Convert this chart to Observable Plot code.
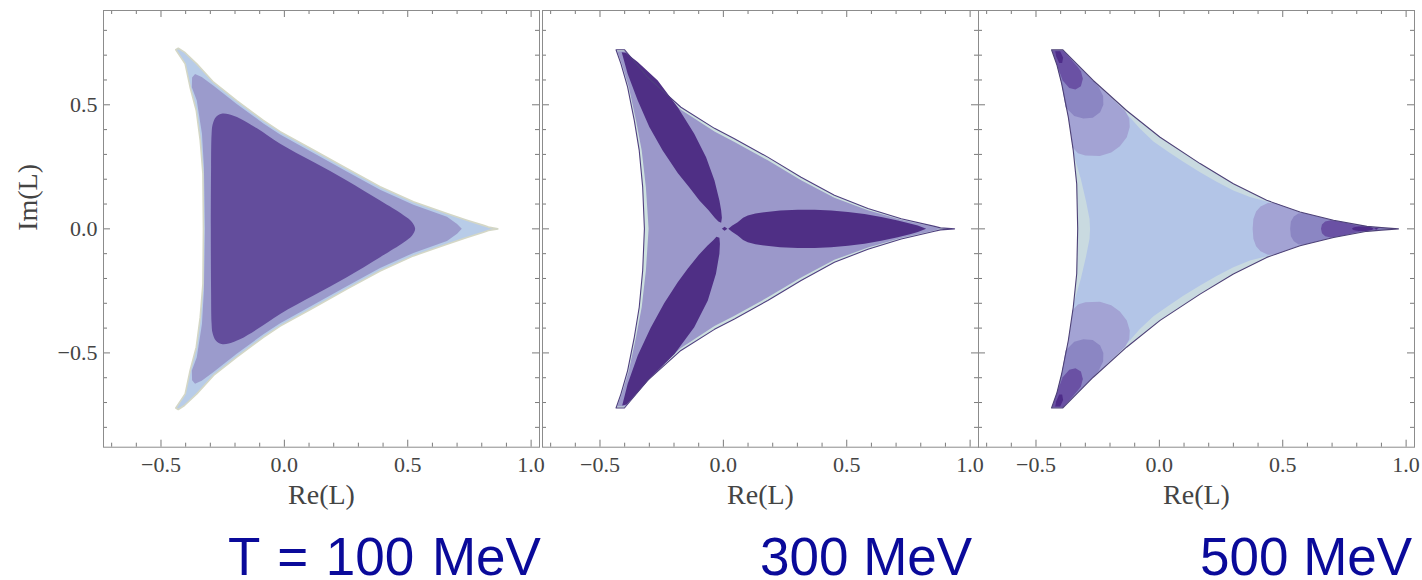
<!DOCTYPE html>
<html><head><meta charset="utf-8">
<script src="https://cdn.jsdelivr.net/npm/d3@7"></script>
<script src="https://cdn.jsdelivr.net/npm/@observablehq/plot@0.6"></script>
<style>
html,body{margin:0;padding:0;background:#fff;}
#wrap{position:relative;width:1422px;height:580px;overflow:hidden;background:#fff;}
.panel{position:absolute;top:0;}
.panel svg{max-width:none !important;}
.cap{position:absolute;font-family:"Liberation Sans",Arial,sans-serif;font-size:53px;color:#0a0a9a;line-height:53px;white-space:nowrap;}
</style></head><body><div id="wrap"></div>
<script>
// ---------- tick values / labels ----------
const xMajor = [-0.5, 0, 0.5, 1.0];
const xTickLabels = ["\u22120.5", "0.0", "0.5", "1.0"];
const xMinor = [-0.7,-0.6,-0.4,-0.3,-0.2,-0.1,0.1,0.2,0.3,0.4,0.6,0.7,0.8,0.9];
const yMajor = [-0.5, 0, 0.5];
const yTickLabels = ["\u22120.5", "0.0", "0.5"];
const yMinor = [-0.8,-0.7,-0.6,-0.4,-0.3,-0.2,-0.1,0.1,0.2,0.3,0.4,0.6,0.7,0.8];
const panelTitles = ["T = 100 MeV", "300 MeV", "500 MeV"];

// ---------- T = 100 MeV contour regions (Re L, Im L) ----------
const p1Outer = [[0.865,0],[0.827,0.007],[0.807,0.014],[0.740,0.035],[0.659,0.062],[0.523,0.109],[0.388,0.170],[0.253,0.243],[0.118,0.318],[-0.017,0.392],[-0.085,0.437],[-0.193,0.517],[-0.287,0.591],[-0.355,0.665],[-0.405,0.712],[-0.430,0.728],[-0.440,0.722],[-0.402,0.665],[-0.382,0.571],[-0.357,0.477],[-0.341,0.356],[-0.330,0.222],[-0.328,0],[-0.330,-0.222],[-0.341,-0.356],[-0.357,-0.477],[-0.382,-0.571],[-0.402,-0.665],[-0.440,-0.722],[-0.430,-0.728],[-0.405,-0.712],[-0.355,-0.665],[-0.287,-0.591],[-0.193,-0.517],[-0.085,-0.437],[-0.017,-0.392],[0.118,-0.318],[0.253,-0.243],[0.388,-0.170],[0.523,-0.109],[0.659,-0.062],[0.740,-0.035],[0.807,-0.014],[0.827,-0.007]];
const p1Middle = [[0.719,0],[0.700,0.020],[0.659,0.049],[0.523,0.097],[0.388,0.158],[0.253,0.231],[0.118,0.306],[-0.017,0.380],[-0.085,0.425],[-0.193,0.503],[-0.287,0.577],[-0.335,0.612],[-0.362,0.624],[-0.374,0.610],[-0.375,0.571],[-0.355,0.517],[-0.334,0.383],[-0.326,0.248],[-0.322,0],[-0.326,-0.248],[-0.334,-0.383],[-0.355,-0.517],[-0.375,-0.571],[-0.374,-0.610],[-0.362,-0.624],[-0.335,-0.612],[-0.287,-0.577],[-0.193,-0.503],[-0.085,-0.425],[-0.017,-0.380],[0.118,-0.306],[0.253,-0.231],[0.388,-0.158],[0.523,-0.097],[0.659,-0.049],[0.700,-0.020]];
const p1Inner = [[0.530,0],[0.517,0.028],[0.483,0.055],[0.388,0.114],[0.253,0.195],[0.118,0.269],[-0.017,0.343],[-0.111,0.405],[-0.180,0.445],[-0.225,0.462],[-0.255,0.464],[-0.278,0.450],[-0.291,0.420],[-0.295,0.380],[-0.297,0.250],[-0.298,0],[-0.297,-0.250],[-0.295,-0.380],[-0.291,-0.420],[-0.278,-0.450],[-0.255,-0.464],[-0.225,-0.462],[-0.180,-0.445],[-0.111,-0.405],[-0.017,-0.343],[0.118,-0.269],[0.253,-0.195],[0.388,-0.114],[0.483,-0.055],[0.517,-0.028]];

// ---------- T = 300 MeV ----------
const p2Outer = [[0.937,0],[0.880,0.004],[0.856,0.010],[0.721,0.041],[0.586,0.082],[0.450,0.135],[0.315,0.208],[0.180,0.289],[0.045,0.363],[-0.036,0.405],[-0.172,0.490],[-0.307,0.611],[-0.401,0.722],[-0.435,0.722],[-0.415,0.665],[-0.388,0.571],[-0.361,0.437],[-0.341,0.316],[-0.327,0.168],[-0.320,0],[-0.327,-0.168],[-0.341,-0.316],[-0.361,-0.437],[-0.388,-0.571],[-0.415,-0.665],[-0.435,-0.722],[-0.401,-0.722],[-0.307,-0.611],[-0.172,-0.490],[-0.036,-0.405],[0.045,-0.363],[0.180,-0.289],[0.315,-0.208],[0.450,-0.135],[0.586,-0.082],[0.721,-0.041],[0.856,-0.010],[0.880,-0.004]];
const p2Lavender = [[0.880,0],[0.856,0.007],[0.721,0.037],[0.586,0.075],[0.450,0.125],[0.315,0.196],[0.180,0.276],[0.045,0.350],[-0.036,0.392],[-0.172,0.480],[-0.307,0.605],[-0.398,0.716],[-0.430,0.716],[-0.410,0.660],[-0.383,0.571],[-0.354,0.437],[-0.331,0.316],[-0.314,0.168],[-0.303,0],[-0.314,-0.168],[-0.331,-0.316],[-0.354,-0.437],[-0.383,-0.571],[-0.410,-0.660],[-0.430,-0.716],[-0.398,-0.716],[-0.307,-0.605],[-0.172,-0.480],[-0.036,-0.392],[0.045,-0.350],[0.180,-0.276],[0.315,-0.196],[0.450,-0.125],[0.586,-0.075],[0.721,-0.037],[0.856,-0.007]];
const p2PetalRight = [[0.020,0],[0.035,0.012],[0.058,0.027],[0.080,0.045],[0.099,0.054],[0.130,0.062],[0.166,0.067],[0.230,0.074],[0.302,0.077],[0.370,0.077],[0.437,0.074],[0.505,0.068],[0.572,0.060],[0.640,0.048],[0.707,0.034],[0.760,0.021],[0.788,0.013],[0.822,0],[0.788,-0.013],[0.760,-0.021],[0.707,-0.034],[0.640,-0.048],[0.572,-0.060],[0.505,-0.068],[0.437,-0.074],[0.370,-0.077],[0.302,-0.077],[0.230,-0.074],[0.166,-0.067],[0.130,-0.062],[0.099,-0.054],[0.080,-0.045],[0.058,-0.027],[0.035,-0.012]];
const p2PetalUp = [[-0.412,0.712],[-0.388,0.625],[-0.347,0.517],[-0.300,0.410],[-0.246,0.316],[-0.185,0.225],[-0.140,0.170],[-0.097,0.114],[-0.060,0.075],[-0.035,0.045],[-0.020,0.030],[-0.009,0.025],[-0.006,0.045],[-0.009,0.075],[-0.016,0.114],[-0.036,0.195],[-0.070,0.289],[-0.118,0.383],[-0.185,0.490],[-0.266,0.598],[-0.347,0.672],[-0.395,0.710]];
const p2PetalDown = [[-0.410,-0.712],[-0.388,-0.625],[-0.347,-0.510],[-0.295,-0.400],[-0.240,-0.300],[-0.185,-0.215],[-0.144,-0.160],[-0.100,-0.105],[-0.065,-0.068],[-0.040,-0.045],[-0.028,-0.032],[-0.016,-0.036],[-0.014,-0.060],[-0.016,-0.100],[-0.030,-0.181],[-0.063,-0.289],[-0.118,-0.397],[-0.198,-0.504],[-0.293,-0.598],[-0.355,-0.668],[-0.392,-0.708]];
const p2Knot = [[-0.006,0],[0.005,0.008],[0.016,0],[0.005,-0.008]];

// ---------- T = 500 MeV ----------
const p3Outer = [[0.969,0],[0.900,0.005],[0.841,0.010],[0.706,0.035],[0.570,0.068],[0.435,0.115],[0.300,0.182],[0.165,0.263],[0.003,0.369],[-0.133,0.477],[-0.268,0.598],[-0.376,0.706],[-0.392,0.722],[-0.437,0.722],[-0.415,0.660],[-0.396,0.585],[-0.369,0.450],[-0.349,0.316],[-0.335,0.181],[-0.331,0],[-0.335,-0.181],[-0.349,-0.316],[-0.369,-0.450],[-0.396,-0.585],[-0.415,-0.660],[-0.437,-0.722],[-0.392,-0.722],[-0.376,-0.706],[-0.268,-0.598],[-0.133,-0.477],[0.003,-0.369],[0.165,-0.263],[0.300,-0.182],[0.435,-0.115],[0.570,-0.068],[0.706,-0.035],[0.841,-0.010],[0.900,-0.005]];
const p3Light = [[0.930,0],[0.841,0.008],[0.706,0.033],[0.570,0.065],[0.480,0.096],[0.435,0.110],[0.367,0.128],[0.300,0.155],[0.232,0.190],[0.165,0.228],[0.097,0.270],[0.040,0.308],[-0.024,0.352],[-0.080,0.405],[-0.133,0.465],[-0.268,0.592],[-0.372,0.700],[-0.428,0.716],[-0.410,0.655],[-0.392,0.585],[-0.366,0.450],[-0.347,0.300],[-0.318,0.200],[-0.297,0.110],[-0.283,0.040],[-0.281,0],[-0.283,-0.040],[-0.297,-0.110],[-0.318,-0.200],[-0.347,-0.300],[-0.366,-0.450],[-0.392,-0.585],[-0.410,-0.655],[-0.428,-0.716],[-0.372,-0.700],[-0.268,-0.592],[-0.133,-0.465],[-0.080,-0.405],[-0.024,-0.352],[0.040,-0.308],[0.097,-0.270],[0.165,-0.228],[0.232,-0.190],[0.300,-0.155],[0.367,-0.128],[0.435,-0.110],[0.480,-0.096],[0.570,-0.065],[0.706,-0.033],[0.841,-0.008]];
const p3RightLav = [[0.378,0],[0.381,0.040],[0.392,0.070],[0.410,0.090],[0.440,0.104],[0.469,0.104],[0.570,0.066],[0.706,0.034],[0.841,0.009],[0.900,0.004],[0.960,0],[0.900,-0.004],[0.841,-0.009],[0.706,-0.034],[0.570,-0.066],[0.469,-0.104],[0.440,-0.104],[0.410,-0.090],[0.392,-0.070],[0.381,-0.040]];
const p3RightMed = [[0.530,0],[0.533,0.030],[0.545,0.050],[0.563,0.062],[0.585,0.064],[0.706,0.034],[0.841,0.009],[0.900,0.004],[0.955,0],[0.900,-0.004],[0.841,-0.009],[0.706,-0.034],[0.585,-0.064],[0.563,-0.062],[0.545,-0.050],[0.533,-0.030]];
const p3RightDark = [[0.655,0],[0.659,0.018],[0.672,0.030],[0.695,0.035],[0.740,0.028],[0.800,0.014],[0.850,0.007],[0.895,0],[0.850,-0.007],[0.800,-0.014],[0.740,-0.028],[0.695,-0.035],[0.672,-0.030],[0.659,-0.018]];
const p3RightDarkest = [[0.781,0],[0.790,0.006],[0.815,0.009],[0.845,0.008],[0.862,0.004],[0.866,0],[0.862,-0.004],[0.845,-0.008],[0.815,-0.009],[0.790,-0.006]];
const p3RightDot = [[0.872,0],[0.879,0.004],[0.887,0],[0.879,-0.004]];
const p3UpLav = [[-0.352,0.329],[-0.330,0.305],[-0.300,0.296],[-0.241,0.294],[-0.195,0.308],[-0.160,0.333],[-0.132,0.369],[-0.120,0.410],[-0.122,0.445],[-0.139,0.476],[-0.268,0.596],[-0.376,0.704],[-0.392,0.720],[-0.435,0.720],[-0.415,0.660],[-0.396,0.585],[-0.369,0.450],[-0.358,0.380]];
const p3UpMed = [[-0.380,0.490],[-0.345,0.455],[-0.308,0.445],[-0.270,0.448],[-0.240,0.470],[-0.227,0.500],[-0.228,0.535],[-0.246,0.572],[-0.268,0.596],[-0.376,0.704],[-0.392,0.720],[-0.435,0.720],[-0.415,0.660],[-0.396,0.585]];
const p3UpDark = [[-0.392,0.598],[-0.365,0.568],[-0.340,0.562],[-0.318,0.575],[-0.310,0.605],[-0.318,0.635],[-0.332,0.654],[-0.376,0.704],[-0.392,0.720],[-0.435,0.720],[-0.415,0.660]];
const p3UpDarkest = [[-0.422,0.716],[-0.402,0.716],[-0.390,0.690],[-0.394,0.668],[-0.406,0.668],[-0.418,0.695]];
const p3DownLav = [[-0.352,-0.329],[-0.330,-0.305],[-0.300,-0.296],[-0.241,-0.294],[-0.195,-0.308],[-0.160,-0.333],[-0.132,-0.369],[-0.120,-0.410],[-0.122,-0.445],[-0.139,-0.476],[-0.268,-0.596],[-0.376,-0.704],[-0.392,-0.720],[-0.435,-0.720],[-0.415,-0.660],[-0.396,-0.585],[-0.369,-0.450],[-0.358,-0.380]];
const p3DownMed = [[-0.380,-0.490],[-0.345,-0.455],[-0.308,-0.445],[-0.270,-0.448],[-0.240,-0.470],[-0.227,-0.500],[-0.228,-0.535],[-0.246,-0.572],[-0.268,-0.596],[-0.376,-0.704],[-0.392,-0.720],[-0.435,-0.720],[-0.415,-0.660],[-0.396,-0.585]];
const p3DownDark = [[-0.392,-0.598],[-0.365,-0.568],[-0.340,-0.562],[-0.318,-0.575],[-0.310,-0.605],[-0.318,-0.635],[-0.332,-0.654],[-0.376,-0.704],[-0.392,-0.720],[-0.435,-0.720],[-0.415,-0.660]];
const p3DownDarkest = [[-0.422,-0.716],[-0.402,-0.716],[-0.390,-0.690],[-0.394,-0.668],[-0.406,-0.668],[-0.418,-0.695]];

// ---------- layout ----------
const SERIF = "'Liberation Serif','Times New Roman',Times,serif";
const PW = 436, PH = 436.7, MT = 10, H = 520;
const XD = [-0.733, 1.034], YD = [-0.88, 0.88];

function poly(pts, fill, opts = {}) {
  return Plot.line(pts, {x: d => d[0], y: d => d[1], curve: opts.curve || "linear-closed",
    fill: fill || "none", stroke: opts.stroke || "none", strokeWidth: opts.sw || 1});
}

function panel(layers, showY) {
  const ML = showY ? 103 : 12, MR = 15;
  const marks = [...layers];
  const tc = "#7a7a7a";
  marks.push(Plot.tickX(xMinor, {x: d => d, stroke: tc, insetBottom: PH - 4}));
  marks.push(Plot.tickX(xMinor, {x: d => d, stroke: tc, insetTop: PH - 4}));
  marks.push(Plot.tickX(xMajor, {x: d => d, stroke: tc, insetBottom: PH - 7}));
  marks.push(Plot.tickX(xMajor, {x: d => d, stroke: tc, insetTop: PH - 7}));
  marks.push(Plot.tickY(yMinor, {y: d => d, stroke: tc, insetRight: PW - 4}));
  marks.push(Plot.tickY(yMinor, {y: d => d, stroke: tc, insetLeft: PW - 4}));
  marks.push(Plot.tickY(yMajor, {y: d => d, stroke: tc, insetRight: PW - 7}));
  marks.push(Plot.tickY(yMajor, {y: d => d, stroke: tc, insetLeft: PW - 7}));
  marks.push(Plot.frame({stroke: "#8c8c8c", strokeWidth: 1}));
  marks.push(Plot.text(xMajor, {x: d => d, text: (d, i) => xTickLabels[i], frameAnchor: "bottom",
    lineAnchor: "middle", dy: 18, fontSize: 22, fontFamily: SERIF, fill: "#444"}));
  marks.push(Plot.text(["Re(L)"], {text: d => d, frameAnchor: "bottom", lineAnchor: "middle",
    dy: 48, fontSize: 28, fontFamily: SERIF, fill: "#444"}));
  if (showY) {
    marks.push(Plot.text(yMajor, {y: d => d, text: (d, i) => yTickLabels[i], frameAnchor: "left",
      textAnchor: "end", lineAnchor: "middle", dx: -6, fontSize: 22, fontFamily: SERIF, fill: "#444"}));
    marks.push(Plot.text(["Im(L)"], {text: d => d, frameAnchor: "left", dx: -75, dy: 2, rotate: -90,
      lineAnchor: "middle", fontSize: 28, fontFamily: SERIF, fill: "#444"}));
  }
  return {width: ML + PW + MR, svg: Plot.plot({
    width: ML + PW + MR, height: H,
    marginLeft: ML, marginRight: MR, marginTop: MT, marginBottom: H - MT - PH,
    x: {domain: XD, axis: null}, y: {domain: YD, axis: null},
    style: {overflow: "visible", background: "transparent", maxWidth: "none"},
    marks
  })};
}

const panels = [
  {left: 0, p: panel([
    poly(p1Outer, "#b8cce8", {stroke: "#d4d7c6", sw: 1.6}),
    poly(p1Middle, "#9b9bcc"),
    poly(p1Inner, "#634d9c", {curve: "catmull-rom-closed"})
  ], true)},
  {left: 541.5 - 12, p: panel([
    poly(p2Outer, "#cde0df"),
    poly(p2Lavender, "#9b98ca"),
    poly(p2PetalRight, "#4f2f85"),
    poly(p2PetalUp, "#4f2f85"),
    poly(p2PetalDown, "#4f2f85"),
    poly(p2Knot, "#4f2f85"),
    poly(p2Outer, "none", {stroke: "#4f3f7f", sw: 1.1})
  ], false)},
  {left: 977.5 - 12, p: panel([
    poly(p3Outer, "#c9dae0"),
    poly(p3Light, "#b3c5e7"),
    poly(p3RightLav, "#a3a3d4"), poly(p3UpLav, "#a3a3d4"), poly(p3DownLav, "#a3a3d4"),
    poly(p3RightMed, "#8b86c3"), poly(p3UpMed, "#8b86c3"), poly(p3DownMed, "#8b86c3"),
    poly(p3RightDark, "#6a51a4"), poly(p3UpDark, "#6a51a4"), poly(p3DownDark, "#6a51a4"),
    poly(p3RightDarkest, "#4e2c89", {curve: "catmull-rom-closed"}), poly(p3RightDot, "#4e2c89"),
    poly(p3UpDarkest, "#4e2c89"), poly(p3DownDarkest, "#4e2c89"),
    poly(p3Outer, "none", {stroke: "#4d4076", sw: 1.1})
  ], false)}
];

const wrap = document.getElementById("wrap");
for (const {left, p} of panels) {
  const div = document.createElement("div");
  div.className = "panel";
  div.style.left = left + "px";
  div.style.width = p.width + "px";
  div.appendChild(p.svg);
  wrap.appendChild(div);
}
const capLeft = [228, 760, 1200];
panelTitles.forEach((t, i) => {
  const c = document.createElement("div");
  c.className = "cap";
  c.style.left = capLeft[i] + "px";
  c.style.top = "530px";
  if (i === 0) c.style.wordSpacing = "3px";
  c.textContent = t;
  wrap.appendChild(c);
});
</script>
</body></html>
